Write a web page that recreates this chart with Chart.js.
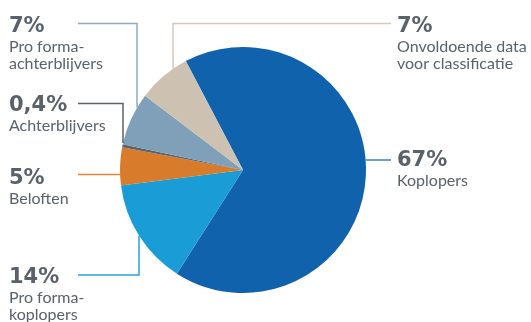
<!DOCTYPE html>
<html>
<head>
<meta charset="utf-8">
<script src="https://cdn.jsdelivr.net/npm/chart.js@4/dist/chart.umd.min.js"></script>
<style>
  html, body { margin: 0; padding: 0; background: #fff; }
  #wrap { width: 531px; height: 322px; }
</style>
</head>
<body>
<div id="wrap"><canvas id="pie"></canvas></div>
<script>
const categories = [
  'Koplopers',
  'Pro forma-koplopers',
  'Beloften',
  'Achterblijvers',
  'Pro forma-achterblijvers',
  'Onvoldoende data voor classificatie'
];
const shares = [67, 14, 5, 0.4, 7, 7];
const shareLabels = ['67%', '14%', '5%', '0,4%', '7%', '7%'];
const labelLines = [
  ['Koplopers'],
  ['Pro forma-', 'koplopers'],
  ['Beloften'],
  ['Achterblijvers'],
  ['Pro forma-', 'achterblijvers'],
  ['Onvoldoende data', 'voor classificatie']
];

const sliceColors = ['#1162ad', '#1a9dd7', '#d87b2a', '#5b6268', '#7fa0b8', '#cdc2b1'];
const lineColors = ['#3f80c6', '#2aa3dc', '#e08636', '#5b6268', '#8eaac0', '#d4cab9'];
const textColor = '#59626a';

// callout layout: where the text sits, the y of its rule and (optionally) the x where it bends to the pie
const callouts = [
  { side: 'right', x: 397, base: 166, ruleY: 160 },
  { side: 'left', x: 9, base: 282.5, ruleY: 275, bendX: 139 },
  { side: 'left', x: 9, base: 184, ruleY: 174.5 },
  { side: 'left', x: 9, base: 111, ruleY: 103.5, bendX: 123 },
  { side: 'left', x: 9, base: 31.5, ruleY: 23.5, bendX: 137 },
  { side: 'right', x: 397, base: 31.5, ruleY: 23.5, bendX: 173 }
];

const calloutPlugin = {
  id: 'callouts',
  afterDatasetsDraw(chart) {
    const ctx = chart.ctx;
    const arcs = chart.getDatasetMeta(0).data;
    ctx.save();
    callouts.forEach((c, i) => {
      const arc = arcs[i];
      const cx = arc.x, cy = arc.y, r = arc.outerRadius;
      const ruleStart = c.side === 'left' ? 78 : 391;
      ctx.strokeStyle = lineColors[i];
      ctx.lineWidth = 1.5;
      ctx.beginPath();
      if (c.bendX !== undefined) {
        // run along the rule, then straight to the rim
        const dy = Math.sqrt(r * r - (c.bendX - cx) * (c.bendX - cx));
        const rimY = c.ruleY < cy ? cy - dy : cy + dy;
        ctx.moveTo(ruleStart, c.ruleY);
        ctx.lineTo(c.bendX, c.ruleY);
        ctx.lineTo(c.bendX, rimY);
      } else {
        const dx = Math.sqrt(r * r - (c.ruleY - cy) * (c.ruleY - cy));
        const rimX = c.side === 'left' ? cx - dx : cx + dx;
        ctx.moveTo(ruleStart, c.ruleY);
        ctx.lineTo(rimX, c.ruleY);
      }
      ctx.stroke();

      ctx.fillStyle = textColor;
      ctx.textAlign = 'left';
      ctx.textBaseline = 'alphabetic';
      ctx.font = 'bold 21px "DejaVu Sans"';
      ctx.fillText(shareLabels[i], c.x, c.base);
      ctx.font = '16px Lato';
      labelLines[i].forEach((t, j) => {
        ctx.fillText(t, c.x, c.base + 20 + j * 17.5);
      });
    });
    ctx.restore();
  }
};

new Chart(document.getElementById('pie'), {
  type: 'pie',
  data: {
    labels: categories,
    datasets: [{
      data: shares,
      backgroundColor: sliceColors,
      borderWidth: 0
    }]
  },
  options: {
    responsive: true,
    maintainAspectRatio: false,
    animation: false,
    rotation: -27.7,
    layout: { padding: { top: 47, bottom: 29, left: 120, right: 165 } },
    plugins: {
      legend: { display: false },
      tooltip: { enabled: false }
    }
  },
  plugins: [calloutPlugin]
});
</script>
</body>
</html>
